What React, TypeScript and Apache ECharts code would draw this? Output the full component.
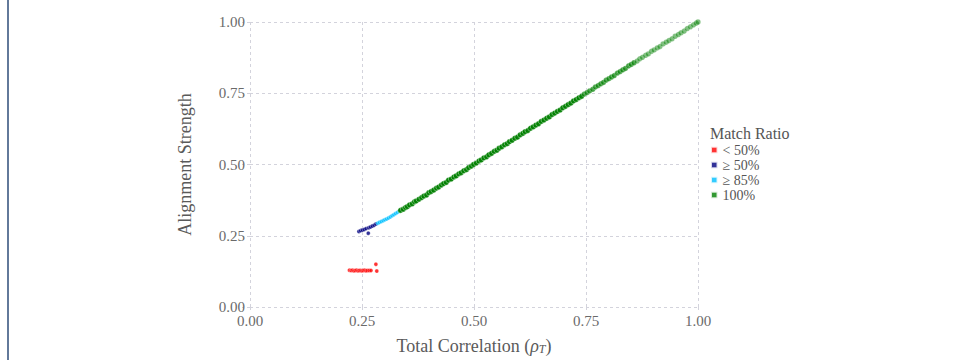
import React, { useEffect, useRef } from "react";
import * as echarts from "echarts";

const xTicks = [0, 0.25, 0.5, 0.75, 1.0];
const seriesNames = ["< 50%", "≥ 50%", "≥ 85%", "100%"];
const seriesColors = ["#ff0000", "#000080", "#00bfff", "#008000"];

const redPoints: number[][] = [
  [0.222, 0.129], [0.226, 0.128], [0.229, 0.129], [0.232, 0.127], [0.235, 0.128],
  [0.238, 0.129], [0.241, 0.127], [0.244, 0.128], [0.247, 0.128], [0.25, 0.127],
  [0.253, 0.128], [0.256, 0.129], [0.259, 0.127], [0.262, 0.128], [0.266, 0.128],
  [0.27, 0.128], [0.281, 0.15], [0.283, 0.126],
];

const navyPoints: number[][] = [
  [0.243, 0.265], [0.247, 0.268], [0.251, 0.27], [0.255, 0.272], [0.259, 0.275],
  [0.264, 0.259], [0.265, 0.278], [0.269, 0.281], [0.273, 0.284], [0.277, 0.287],
  [0.281, 0.291],
];

const cyanPoints: number[][] = [
  [0.285, 0.294], [0.289, 0.297], [0.293, 0.3], [0.297, 0.303], [0.301, 0.306],
  [0.305, 0.309], [0.309, 0.312], [0.313, 0.316], [0.317, 0.32], [0.321, 0.324],
  [0.325, 0.328], [0.329, 0.332], [0.333, 0.336],
];

const greenPoints: number[][] = [
  [0.336, 0.339], [0.342, 0.343], [0.347, 0.349], [0.351, 0.352], [0.356, 0.358],
  [0.362, 0.362], [0.367, 0.369], [0.371, 0.372], [0.377, 0.378], [0.383, 0.384],
  [0.388, 0.389], [0.394, 0.393], [0.399, 0.401], [0.404, 0.405], [0.41, 0.41],
  [0.416, 0.417], [0.421, 0.421], [0.427, 0.428], [0.432, 0.433], [0.438, 0.437],
  [0.443, 0.445], [0.449, 0.449], [0.455, 0.456], [0.46, 0.46], [0.466, 0.467],
  [0.471, 0.471], [0.477, 0.478], [0.483, 0.482], [0.488, 0.489], [0.494, 0.494],
  [0.499, 0.5], [0.505, 0.505], [0.511, 0.512], [0.516, 0.516], [0.522, 0.523],
  [0.528, 0.527], [0.533, 0.534], [0.539, 0.539], [0.545, 0.546], [0.551, 0.55],
  [0.556, 0.557], [0.562, 0.562], [0.568, 0.569], [0.574, 0.573], [0.579, 0.58],
  [0.585, 0.585], [0.591, 0.592], [0.597, 0.596], [0.603, 0.604], [0.609, 0.609],
  [0.614, 0.615], [0.62, 0.619], [0.626, 0.627], [0.632, 0.632], [0.638, 0.638],
  [0.644, 0.643], [0.65, 0.651], [0.656, 0.656], [0.662, 0.662], [0.668, 0.667],
  [0.674, 0.675], [0.68, 0.68], [0.686, 0.686], [0.692, 0.691], [0.698, 0.699],
  [0.704, 0.704], [0.71, 0.71], [0.716, 0.715], [0.722, 0.723], [0.728, 0.728],
  [0.734, 0.734], [0.74, 0.739], [0.746, 0.747], [0.752, 0.752], [0.758, 0.758],
  [0.765, 0.764], [0.771, 0.772], [0.777, 0.777], [0.783, 0.783], [0.789, 0.788],
  [0.795, 0.796], [0.801, 0.801], [0.807, 0.807], [0.813, 0.812], [0.82, 0.821],
  [0.826, 0.826], [0.832, 0.832], [0.838, 0.837], [0.845, 0.846], [0.851, 0.851],
  [0.857, 0.857], [0.864, 0.863], [0.87, 0.871], [0.876, 0.876], [0.883, 0.883],
  [0.889, 0.888], [0.896, 0.897], [0.902, 0.902], [0.909, 0.909], [0.915, 0.914],
  [0.922, 0.923], [0.929, 0.929], [0.935, 0.935], [0.942, 0.941], [0.949, 0.95],
  [0.956, 0.956], [0.962, 0.962], [0.969, 0.968], [0.976, 0.977], [0.983, 0.983],
  [0.99, 0.99], [0.996, 0.996], [1.0, 1.0],
];

const FONT = "'Liberation Serif', 'DejaVu Serif', serif";
const GRID_COLOR = "#d3d3dc";

export default function App() {
  const ref = useRef<HTMLDivElement>(null);
  useEffect(() => {
    document.body.style.margin = "0";
    if (!ref.current) return;
    const chart = echarts.init(ref.current, undefined, { renderer: "svg" });
    const dashed = { color: GRID_COLOR, type: [3, 3] as any, width: 1 };
    const axisCommon = {
      type: "value" as const,
      min: 0,
      max: 1,
      interval: 0.25,
      axisLine: { show: false },
    };
    const fmt = (v: number) => v.toFixed(2);
    const groups = [redPoints, navyPoints, cyanPoints, greenPoints];
    const sizes = [4, 4, 4, 5.5];
    const series = groups.map((pts, i) => ({
      name: seriesNames[i],
      type: "scatter" as const,
      xAxisIndex: 0,
      yAxisIndex: 0,
      symbol: "circle",
      symbolSize: sizes[i],
      itemStyle: { color: seriesColors[i], borderColor: "#ffffff", borderWidth: 0.4 },
      data:
        i === 3
          ? pts.map((p) => ({
              value: p,
              itemStyle: { opacity: p[0] > 0.86 ? 0.5 : p[0] > 0.74 ? 0.72 : 0.95 },
            }))
          : pts,
    }));
    chart.setOption({
      animation: false,
      backgroundColor: "#ffffff",
      textStyle: { fontFamily: FONT },
      grid: { left: 250, right: 258, top: 22, bottom: 51, containLabel: false },
      xAxis: [
        {
          ...axisCommon,
          position: "bottom",
          splitLine: { show: true, lineStyle: dashed },
          axisTick: { show: true, length: 4, lineStyle: dashed },
          axisLabel: {
            formatter: fmt,
            color: "#6a6a6a",
            fontSize: 15,
            fontFamily: FONT,
            margin: 6,
          },
          name: "Total Correlation ({i|ρ}{s|T})",
          nameLocation: "middle",
          nameGap: 30,
          nameTextStyle: {
            color: "#5a5a5a",
            fontSize: 18,
            fontFamily: FONT,
            rich: {
              i: { fontSize: 18, fontFamily: FONT, fontStyle: "italic", color: "#5a5a5a" },
              s: {
                fontSize: 12,
                fontFamily: FONT,
                fontStyle: "italic",
                color: "#5a5a5a",
                verticalAlign: "bottom",
                padding: [6, 0, 0, 0],
              },
            },
          },
        },
        {
          ...axisCommon,
          position: "top",
          splitLine: { show: false },
          axisTick: { show: true, length: 9, lineStyle: dashed },
          axisLabel: { show: false },
        },
      ],
      yAxis: [
        {
          ...axisCommon,
          position: "left",
          splitLine: { show: true, lineStyle: dashed },
          axisTick: { show: true, length: 8, lineStyle: dashed },
          axisLabel: {
            formatter: fmt,
            color: "#6a6a6a",
            fontSize: 15,
            fontFamily: FONT,
            margin: 5,
          },
          name: "Alignment Strength",
          nameLocation: "middle",
          nameGap: 56,
          nameTextStyle: { color: "#5a5a5a", fontSize: 18, fontFamily: FONT },
        },
        {
          ...axisCommon,
          position: "right",
          splitLine: { show: false },
          axisTick: { show: true, length: 8, lineStyle: dashed },
          axisLabel: { show: false },
        },
      ],
      legend: {
        orient: "vertical",
        left: 710,
        top: 143,
        padding: 0,
        icon: "rect",
        itemWidth: 6.5,
        itemHeight: 6.5,
        itemGap: 1,
        data: seriesNames,
        formatter: (name: string) => `{t|${name}}`,
        textStyle: {
          color: "#555555",
          fontSize: 14,
          fontFamily: FONT,
          lineHeight: 14,
          rich: {
            t: { fontSize: 14, fontFamily: FONT, color: "#555555", lineHeight: 14 },
          },
        },
      },
      graphic: [
        {
          type: "rect",
          left: 7,
          top: 0,
          shape: { width: 2, height: 360 },
          style: { fill: "#62799a" },
        },
        {
          type: "text",
          left: 710,
          top: 125,
          style: {
            text: "Match Ratio",
            fill: "#555555",
            fontSize: 16,
            fontFamily: FONT,
          },
        },
      ],
      series,
    });
    return () => chart.dispose();
  }, []);
  return <div ref={ref} style={{ width: 956, height: 360 }} />;
}
